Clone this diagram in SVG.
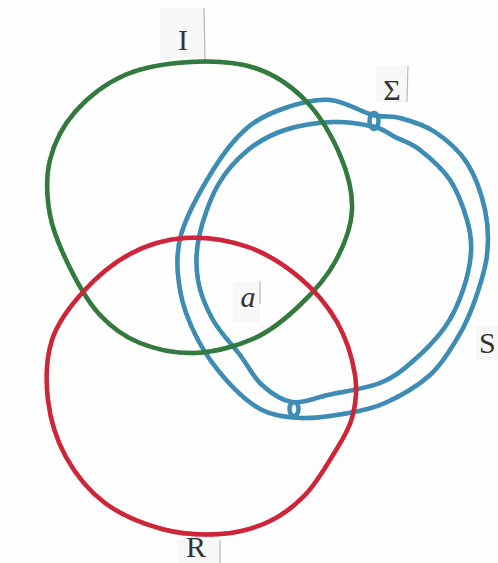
<svg xmlns="http://www.w3.org/2000/svg" width="498" height="563" viewBox="0 0 498 563">
<style>
.rope{fill:none;stroke-width:4.5;stroke-linejoin:round;stroke-linecap:round}
.tex{fill:none;stroke-width:1.2;stroke-dasharray:3 4;opacity:0.45}
.slip{fill:#f7f7f7}
.edge{stroke:#b9b9b9;stroke-width:1.2}
.lbl{font-family:"Liberation Serif","Times New Roman",serif;font-size:30px;fill:#333}
</style>
<rect width="498" height="563" fill="#fefefe"/>
<g id="slips">
<rect class="slip" x="160" y="8" width="44" height="50"/><line class="edge" x1="204" y1="8" x2="205" y2="60"/>
<rect class="slip" x="376" y="66" width="31" height="36"/><line class="edge" x1="408" y1="66" x2="407" y2="102"/>
<rect class="slip" x="233" y="282" width="27" height="40"/><line class="edge" x1="260" y1="281" x2="260" y2="304"/>
<rect class="slip" x="476" y="326" width="22" height="34"/>
<rect class="slip" x="178" y="540" width="42" height="23"/><line class="edge" x1="220" y1="540" x2="220" y2="563"/>
</g>
<g id="blue-outer">
<path id="po" class="rope" stroke="#3d8cb4" d="M373,115 C384.7,118 389.7,115.2 400,118 C410.3,120.8 423.8,124.5 435,132 C446.2,139.5 458.7,150 467,163 C475.3,176 481.7,194.7 485,210 C488.3,225.3 488.7,240 487,255 C485.3,270 479.8,286.3 475,300 C470.2,313.7 465.5,324.5 458,337 C450.5,349.5 442.2,364 430,375 C417.8,386 399.5,396.5 385,403 C370.5,409.5 357.2,411.5 343,414 C328.8,416.5 313.5,418.7 300,418 C286.5,417.3 274,416 262,410 C250,404 238.7,393.7 228,382 C217.3,370.3 206,355.3 198,340 C190,324.7 182.8,307.5 180,290 C177.2,272.5 175.5,255 181,235 C186.5,215 202,187.8 213,170 C224,152.2 235,138.3 247,128 C259,117.7 271.2,112.7 285,108 C298.8,103.3 315.3,98.8 330,100 C344.7,101.2 361.3,112 373,115 Z"/>
<use href="#po" class="tex" stroke="#1f5f80"/>
</g>
<g id="blue-inner">
<path id="pi" class="rope" stroke="#3d8cb4" d="M375,127 C385.3,129.5 387.5,133.2 395,137 C402.5,140.8 410.8,142.8 420,150 C429.2,157.2 442.2,168.3 450,180 C457.8,191.7 463.5,208 467,220 C470.5,232 471.7,240.3 471,252 C470.3,263.7 467.3,277.5 463,290 C458.7,302.5 453.5,315 445,327 C436.5,339 422.8,352.7 412,362 C401.2,371.3 394,377.5 380,383 C366,388.5 342.7,391.8 328,395 C313.3,398.2 303,403.7 292,402 C281,400.3 270.7,392.8 262,385 C253.3,377.2 248.2,365.8 240,355 C231.8,344.2 220,332.5 213,320 C206,307.5 200.3,293.8 198,280 C195.7,266.2 195.7,252.8 199,237 C202.3,221.2 209.8,199.5 218,185 C226.2,170.5 236.8,159.2 248,150 C259.2,140.8 270.8,134.7 285,130 C299.2,125.3 318,122.5 333,122 C348,121.5 364.7,124.5 375,127 Z"/>
<use href="#pi" class="tex" stroke="#1f5f80"/>
<ellipse class="rope" stroke="#3d8cb4" cx="374" cy="121" rx="4.5" ry="8"/>
<ellipse class="rope" stroke="#3d8cb4" cx="294" cy="409" rx="4.5" ry="7"/>
</g>
<g id="green">
<path id="pg" class="rope" stroke="#337a3e" d="M190,62 C211.7,60.8 235.8,61.7 255,68 C274.2,74.3 290.8,85.5 305,100 C319.2,114.5 332.2,136.7 340,155 C347.8,173.3 352.8,192.2 352,210 C351.2,227.8 343.7,246.2 335,262 C326.3,277.8 313.3,292.3 300,305 C286.7,317.7 272.5,330 255,338 C237.5,346 214.2,352.2 195,353 C175.8,353.8 155.8,349.3 140,343 C124.2,336.7 111.7,327.5 100,315 C88.3,302.5 78.3,284.7 70,268 C61.7,251.3 53.3,233 50,215 C46.7,197 45.8,177.2 50,160 C54.2,142.8 62.5,126.2 75,112 C87.5,97.8 105.8,83.3 125,75 C144.2,66.7 168.3,63.2 190,62 Z"/>
<use href="#pg" class="tex" stroke="#163f1e"/>
</g>
<g id="red">
<path id="pr" class="rope" stroke="#cf2539" d="M185,238 C204.7,236.8 228.8,240.3 248,247 C267.2,253.7 285.2,265.5 300,278 C314.8,290.5 327.8,305.8 337,322 C346.2,338.2 352.5,359 355,375 C357.5,391 355.7,404.7 352,418 C348.3,431.3 340.8,442.2 333,455 C325.2,467.8 315.8,483.8 305,495 C294.2,506.2 282.2,515.5 268,522 C253.8,528.5 237.7,532.8 220,534 C202.3,535.2 181.2,534.2 162,529 C142.8,523.8 121,515 105,503 C89,491 75.5,474.2 66,457 C56.5,439.8 50.3,419.5 48,400 C45.7,380.5 46.2,358 52,340 C57.8,322 70,306.3 83,292 C96,277.7 113,263 130,254 C147,245 165.3,239.2 185,238 Z"/>
<use href="#pr" class="tex" stroke="#8a1020"/>
</g>
<g id="labels">
<text class="lbl" x="183" y="50" text-anchor="middle">I</text>
<text class="lbl" x="392" y="100" text-anchor="middle" font-size="28">Σ</text>
<text class="lbl" x="248" y="307" text-anchor="middle" font-style="italic">a</text>
<text class="lbl" x="479" y="353" font-size="29">S</text>
<text class="lbl" x="186" y="557" font-size="25">R</text>
</g>
</svg>
